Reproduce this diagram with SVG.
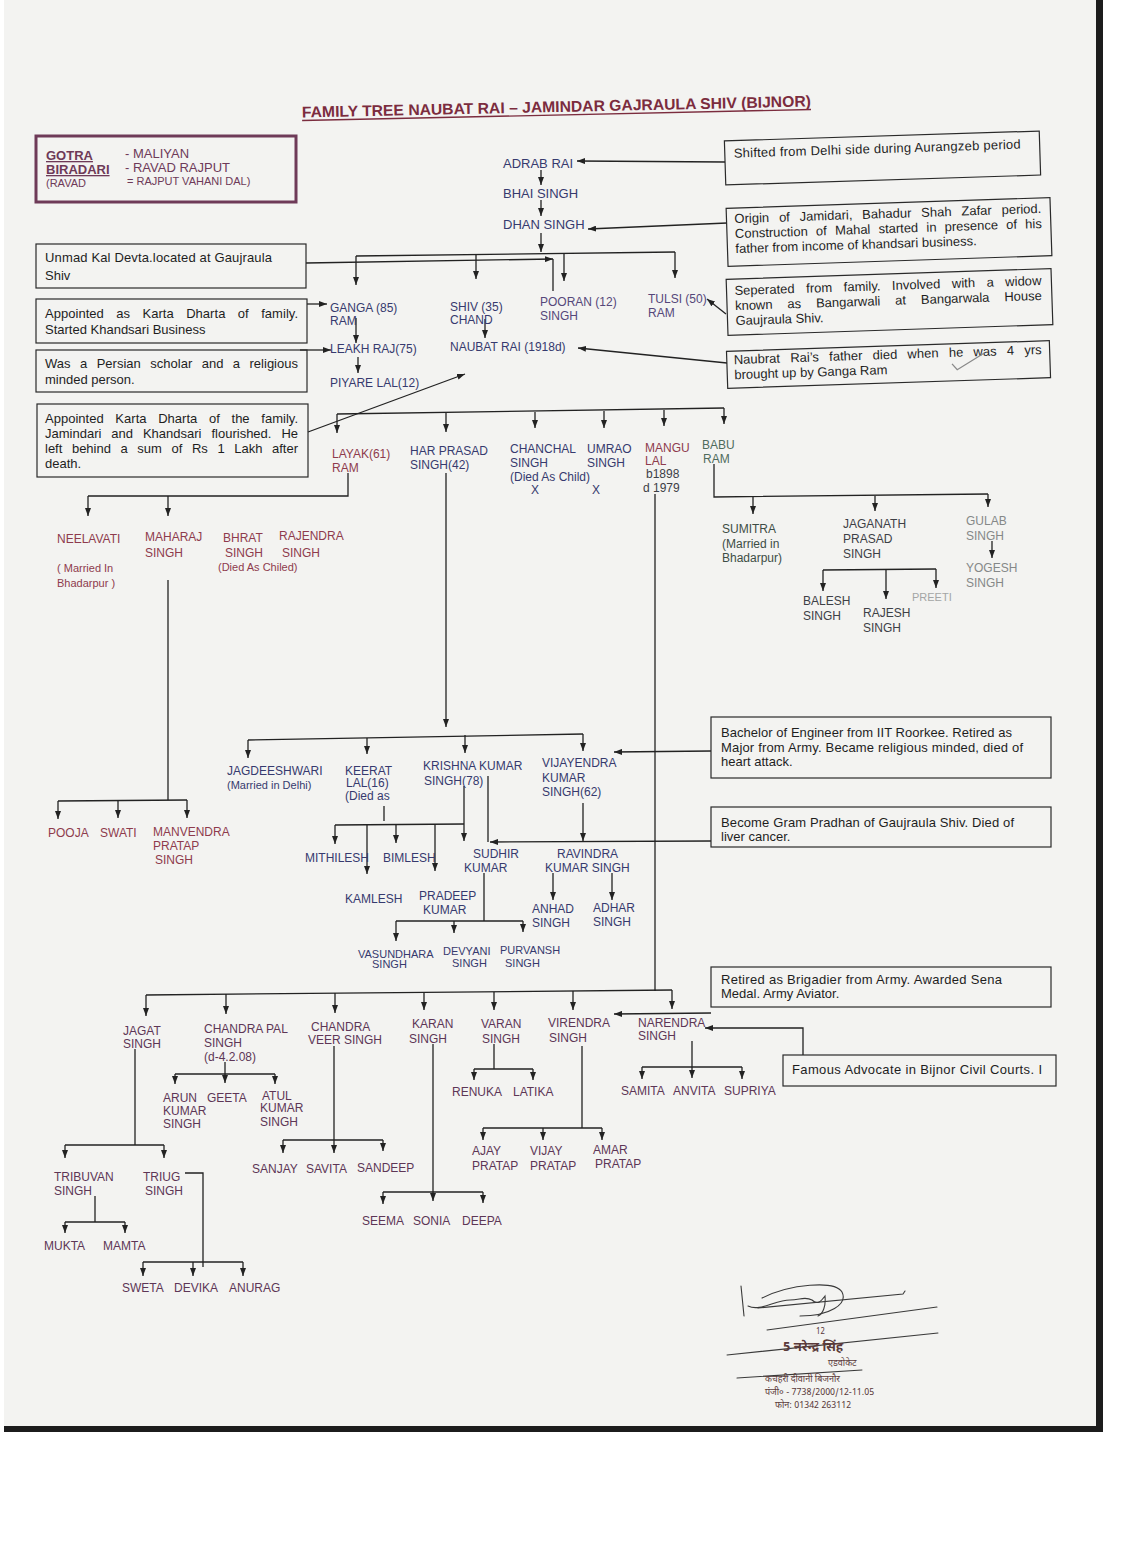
<svg xmlns="http://www.w3.org/2000/svg" width="1122" height="1544" viewBox="0 0 1122 1544">
<defs>
<marker id="ah" viewBox="0 0 8 6" refX="8" refY="3" markerWidth="8" markerHeight="6" markerUnits="userSpaceOnUse" orient="auto"><path d="M0,0 L8,3 L0,6 z" fill="#222"/></marker>
<style>
text{font-family:"Liberation Sans",Arial,sans-serif;}
.nm{font-size:12px;}
.nb{font-size:13px;}
.sm{font-size:11px;}
.nv{fill:#363a6e;}
.pn{fill:#55477a;}
.mr{fill:#8e3b4d;}
.pu{fill:#5d3656;}
.gr{fill:#4f6b5c;}
.gd{fill:#3d4d45;}
.dk{fill:#3d4046;}
.lg{fill:#858888;}
.xl{fill:#a3a5a5;}
.bx{fill:none;stroke:#2a2a2a;stroke-width:1.2;}
.bt{font-size:13px;fill:#1e1e1e;}
.ln{fill:none;stroke:#222;stroke-width:1.3;}
.ar{marker-end:url(#ah);}
.go{fill:#6e3a58;}
.ttl{font-size:15.5px;font-weight:bold;fill:#7b2c3e;}
.sg{fill:none;stroke:#3a3a3a;stroke-width:1.1;stroke-linecap:round;}
.st{fill:#5a3a3a;font-family:"Noto Sans Devanagari","Lohit Devanagari","FreeSans","Noto Sans",sans-serif;}
</style>
</defs>
<rect x="0" y="0" width="1122" height="1544" fill="#ffffff"/>
<rect x="4" y="0" width="1094" height="1427" fill="#f3f3f1"/>
<rect x="1096" y="0" width="7" height="1432" fill="#1c1c1c"/>
<rect x="4" y="1426" width="1099" height="6" fill="#1c1c1c"/>

<g id="title" transform="rotate(-1.24 556 112)">
<text x="302" y="112" class="ttl" textLength="509" lengthAdjust="spacingAndGlyphs">FAMILY TREE NAUBAT RAI – JAMINDAR GAJRAULA SHIV (BIJNOR)</text>
<line x1="302" y1="115" x2="811" y2="115" stroke="#7b2c3e" stroke-width="1.3"/>
</g>

<g id="gotra-box">
<rect x="36" y="136" width="260" height="66" fill="none" stroke="#6e3a58" stroke-width="3"/>
<text x="46" y="160" class="go" font-size="13" font-weight="bold" text-decoration="underline">GOTRA</text>
<text x="46" y="174" class="go" font-size="13" font-weight="bold" text-decoration="underline">BIRADARI</text>
<text x="46" y="187" class="go" font-size="11">(RAVAD</text>
<text x="125" y="158" class="go" font-size="13">- MALIYAN</text>
<text x="125" y="172" class="go" font-size="13">- RAVAD RAJPUT</text>
<text x="127" y="185" class="go" font-size="11">= RAJPUT VAHANI DAL)</text>
</g>

<g id="connectors">
<path class="ln ar" d="M725,162 L577,161"/>
<path class="ln ar" d="M541,170 L541,185"/>
<path class="ln ar" d="M541,200 L541,216"/>
<path class="ln ar" d="M727,223 L588,229"/>
<path class="ln ar" d="M541,233 L541,252"/>
<path class="ln" d="M356,256 L675,252"/>
<path class="ln ar" d="M356,256 L356,285"/>
<path class="ln ar" d="M476,255 L476,279"/>
<path class="ln ar" d="M564,254 L564,281"/>
<path class="ln ar" d="M675,252 L675,278"/>
<path class="ln ar" d="M306,263 L553,259"/>
<path class="ln" d="M553,259 L553,291"/>
<path class="ln ar" d="M307,304 L327,304"/>
<path class="ln ar" d="M356,318 L356,343"/>
<path class="ln ar" d="M300,350 L331,350"/>
<path class="ln ar" d="M358,357 L358,373"/>
<path class="ln ar" d="M726,314 L707,299"/>
<path class="ln ar" d="M485,319 L485,338"/>
<path class="ln ar" d="M727,363 L578,348"/>
<path class="ln ar" d="M308,432 L465,374"/>
<path class="ln" d="M337,414 L724,408"/>
<path class="ln ar" d="M337,414 L337,433"/>
<path class="ln ar" d="M446,413 L446,432"/>
<path class="ln ar" d="M535,412 L535,428"/>
<path class="ln ar" d="M604,411 L604,428"/>
<path class="ln ar" d="M664,410 L664,426"/>
<path class="ln ar" d="M724,408 L724,424"/>
<path class="ln" d="M348,473 L348,496 L88,496"/>
<path class="ln ar" d="M88,496 L88,516"/>
<path class="ln ar" d="M168,496 L168,516"/>
<path class="ln" d="M168,580 L168,800"/>
<path class="ln" d="M58,801 L187,800"/>
<path class="ln ar" d="M58,801 L58,819"/>
<path class="ln ar" d="M118,800 L118,818"/>
<path class="ln ar" d="M187,800 L187,818"/>
<path class="ln ar" d="M446,473 L446,727"/>
<path class="ln" d="M248,740 L583,734"/>
<path class="ln ar" d="M248,740 L248,758"/>
<path class="ln ar" d="M367,738 L367,754"/>
<path class="ln ar" d="M465,735 L465,753"/>
<path class="ln ar" d="M583,734 L583,751"/>
<path class="ln" d="M384,806 L384,821"/>
<path class="ln" d="M464,786 L464,824"/>
<path class="ln" d="M335,825 L464,824"/>
<path class="ln ar" d="M335,825 L335,844"/>
<path class="ln ar" d="M367,825 L367,874"/>
<path class="ln ar" d="M396,825 L396,843"/>
<path class="ln ar" d="M435,824 L435,871"/>
<path class="ln ar" d="M464,824 L464,841"/>
<path class="ln" d="M488,776 L488,842"/>
<path class="ln ar" d="M711,841 L490,842"/>
<path class="ln ar" d="M711,751 L614,752"/>
<path class="ln ar" d="M583,803 L583,841"/>
<path class="ln" d="M484,873 L484,921"/>
<path class="ln" d="M396,921 L523,921"/>
<path class="ln ar" d="M396,921 L396,941"/>
<path class="ln ar" d="M454,921 L454,933"/>
<path class="ln ar" d="M523,921 L523,932"/>
<path class="ln ar" d="M553,873 L553,900"/>
<path class="ln ar" d="M612,873 L612,900"/>
<path class="ln" d="M714,464 L714,497 L988,494"/>
<path class="ln ar" d="M753,497 L753,514"/>
<path class="ln ar" d="M875,496 L875,511"/>
<path class="ln ar" d="M988,494 L988,507"/>
<path class="ln ar" d="M992,541 L992,558"/>
<path class="ln" d="M823,570 L936,569"/>
<path class="ln ar" d="M823,570 L823,591"/>
<path class="ln ar" d="M886,569 L886,599"/>
<path class="ln ar" d="M936,569 L936,588"/>
<path class="ln" d="M655,494 L655,991"/>
<path class="ln" d="M146,995 L672,990"/>
<path class="ln ar" d="M146,995 L146,1016"/>
<path class="ln ar" d="M226,994 L226,1014"/>
<path class="ln ar" d="M335,993 L335,1013"/>
<path class="ln ar" d="M424,992 L424,1010"/>
<path class="ln ar" d="M494,992 L494,1010"/>
<path class="ln ar" d="M573,991 L573,1010"/>
<path class="ln ar" d="M672,990 L672,1009"/>
<path class="ln ar" d="M711,1013 L614,1014"/>
<path class="ln ar" d="M803,1055 L803,1028 L705,1028"/>
<path class="ln" d="M135,1049 L135,1145"/>
<path class="ln" d="M65,1145 L164,1145"/>
<path class="ln ar" d="M65,1145 L65,1158"/>
<path class="ln ar" d="M164,1145 L164,1158"/>
<path class="ln" d="M95,1196 L95,1222"/>
<path class="ln" d="M65,1222 L125,1222"/>
<path class="ln ar" d="M65,1222 L65,1233"/>
<path class="ln ar" d="M125,1222 L125,1233"/>
<path class="ln" d="M185,1173 L203,1173 L203,1267"/>
<path class="ln" d="M143,1262 L243,1262"/>
<path class="ln ar" d="M143,1262 L143,1276"/>
<path class="ln ar" d="M193,1262 L193,1276"/>
<path class="ln ar" d="M243,1262 L243,1276"/>
<path class="ln ar" d="M225,1062 L225,1083"/>
<path class="ln" d="M175,1074 L275,1074"/>
<path class="ln ar" d="M175,1074 L175,1084"/>
<path class="ln ar" d="M275,1074 L275,1084"/>
<path class="ln ar" d="M334,1046 L334,1153"/>
<path class="ln" d="M283,1140 L383,1140"/>
<path class="ln ar" d="M283,1140 L283,1153"/>
<path class="ln ar" d="M383,1140 L383,1151"/>
<path class="ln ar" d="M433,1044 L433,1201"/>
<path class="ln" d="M383,1192 L483,1192"/>
<path class="ln ar" d="M383,1192 L383,1204"/>
<path class="ln ar" d="M483,1192 L483,1203"/>
<path class="ln" d="M494,1044 L494,1069"/>
<path class="ln" d="M474,1069 L533,1069"/>
<path class="ln ar" d="M474,1069 L474,1080"/>
<path class="ln ar" d="M533,1069 L533,1080"/>
<path class="ln" d="M582,1046 L582,1128"/>
<path class="ln" d="M483,1128 L602,1128"/>
<path class="ln ar" d="M483,1128 L483,1140"/>
<path class="ln ar" d="M543,1128 L543,1140"/>
<path class="ln ar" d="M602,1128 L602,1140"/>
<path class="ln ar" d="M692,1041 L692,1078"/>
<path class="ln" d="M642,1067 L742,1067"/>
<path class="ln ar" d="M642,1067 L642,1079"/>
<path class="ln ar" d="M742,1067 L742,1079"/>
</g>

<g id="note-unmad"><rect class="bx" x="36" y="244" width="270" height="44"/>
<text class="bt" x="45" y="262" textLength="227">Unmad Kal Devta.located at Gaujraula</text><text class="bt" x="45" y="280">Shiv</text></g>
<g id="note-ganga"><rect class="bx" x="36" y="299" width="271" height="44"/>
<text class="bt" x="45" y="318" word-spacing="8.8" textLength="253">Appointed as Karta Dharta of family.</text><text class="bt" x="45" y="334">Started Khandsari Business</text></g>
<g id="note-leakh"><rect class="bx" x="36" y="350" width="271" height="42"/>
<text class="bt" x="45" y="368" word-spacing="5.8" textLength="253">Was a Persian scholar and a religious</text><text class="bt" x="45" y="384">minded person.</text></g>
<g id="note-piyare"><rect class="bx" x="37" y="404" width="271" height="73"/>
<text class="bt" x="45" y="423" word-spacing="8" textLength="253">Appointed Karta Dharta  of the family.</text>
<text class="bt" x="45" y="438" word-spacing="6.3" textLength="253">Jamindari and Khandsari flourished.  He</text>
<text class="bt" x="45" y="453" word-spacing="6" textLength="253">left behind a sum of Rs 1 Lakh after</text>
<text class="bt" x="45" y="468">death.</text></g>

<g id="note-adrab" transform="rotate(-1.8 882 158)"><rect class="bx" x="725" y="136" width="315" height="44"/>
<text class="bt" x="734" y="153" textLength="287">Shifted from Delhi side during Aurangzeb period</text></g>
<g id="note-dhan" transform="rotate(-1.9 889 232)"><rect class="bx" x="727" y="203" width="324" height="58"/>
<text class="bt" x="735" y="218" word-spacing="6.2" textLength="307">Origin of Jamidari, Bahadur Shah Zafar period.</text>
<text class="bt" x="735" y="233" word-spacing="4.6" textLength="307">Construction of Mahal started in presence of his</text>
<text class="bt" x="735" y="248">father from income of khandsari business.</text></g>
<g id="note-tulsi" transform="rotate(-1.9 889 302)"><rect class="bx" x="727" y="274" width="325" height="56"/>
<text class="bt" x="735" y="290" word-spacing="7.8" textLength="307">Seperated from family.  Involved with a widow</text>
<text class="bt" x="735" y="305" word-spacing="11.3" textLength="307">known as Bangarwali at Bangarwala House</text>
<text class="bt" x="735" y="320">Gaujraula Shiv.</text></g>
<g id="note-naubat" transform="rotate(-1.9 889 364)"><rect class="bx" x="727" y="346" width="323" height="37"/>
<text class="bt" x="734" y="359" word-spacing="6.6" textLength="308">Naubrat Rai’s father died when he was 4 yrs</text>
<text class="bt" x="734" y="374">brought up by Ganga Ram</text>
<path d="M952,366 L957,372 L985,356" fill="none" stroke="#8a8a8a" stroke-width="1.3"/></g>

<g id="note-vijayendra"><rect class="bx" x="711" y="717" width="340" height="61"/>
<text class="bt" x="721" y="737" textLength="291">Bachelor of Engineer from IIT Roorkee. Retired as</text>
<text class="bt" x="721" y="752" textLength="302">Major from Army.  Became religious minded, died of</text>
<text class="bt" x="721" y="766">heart attack.</text></g>
<g id="note-ravindra"><rect class="bx" x="711" y="807" width="340" height="40"/>
<text class="bt" x="721" y="827" textLength="293">Become Gram Pradhan of Gaujraula Shiv.  Died of</text>
<text class="bt" x="721" y="841">liver cancer.</text></g>
<g id="note-virendra"><rect class="bx" x="711" y="967" width="340" height="40"/>
<text class="bt" x="721" y="984" textLength="281">Retired as Brigadier from Army. Awarded Sena</text>
<text class="bt" x="721" y="998">Medal. Army Aviator.</text></g>
<g id="note-narendra"><rect class="bx" x="783" y="1055" width="273" height="31"/>
<text class="bt" x="792" y="1074" textLength="250">Famous Advocate in Bijnor Civil Courts.  I</text></g>

<g id="n-adrab"><text class="nb nv" x="503" y="168">ADRAB RAI</text></g>
<g id="n-bhai"><text class="nb nv" x="503" y="198">BHAI SINGH</text></g>
<g id="n-dhan"><text class="nb nv" x="503" y="229">DHAN SINGH</text></g>
<g id="n-ganga"><text class="nm nv" x="330" y="312">GANGA (85)</text><text class="nm nv" x="330" y="325">RAM</text></g>
<g id="n-shiv"><text class="nm nv" x="450" y="311">SHIV (35)</text><text class="nm nv" x="450" y="324">CHAND</text></g>
<g id="n-pooran"><text class="nm pn" x="540" y="306">POORAN (12)</text><text class="nm pn" x="540" y="320">SINGH</text></g>
<g id="n-tulsi"><text class="nm pn" x="648" y="303">TULSI (50)</text><text class="nm pn" x="648" y="317">RAM</text></g>
<g id="n-leakh"><text class="nm nv" x="330" y="353">LEAKH RAJ(75)</text></g>
<g id="n-piyare"><text class="nm nv" x="330" y="387">PIYARE LAL(12)</text></g>
<g id="n-naubat"><text class="nm nv" x="450" y="351">NAUBAT RAI (1918d)</text></g>

<g id="n-layak"><text class="nm mr" x="332" y="458">LAYAK(61)</text><text class="nm mr" x="332" y="472">RAM</text></g>
<g id="n-harprasad"><text class="nm nv" x="410" y="455">HAR PRASAD</text><text class="nm nv" x="410" y="469">SINGH(42)</text></g>
<g id="n-chanchal"><text class="nm nv" x="510" y="453">CHANCHAL</text><text class="nm nv" x="510" y="467">SINGH</text><text class="nm nv" x="510" y="481">(Died As Child)</text><text class="nm nv" x="531" y="494">X</text></g>
<g id="n-umrao"><text class="nm nv" x="587" y="453">UMRAO</text><text class="nm nv" x="587" y="467">SINGH</text><text class="nm nv" x="592" y="494">X</text></g>
<g id="n-mangu"><text class="nm mr" x="645" y="452">MANGU</text><text class="nm mr" x="645" y="465">LAL</text><text class="nm dk" x="646" y="478">b1898</text><text class="nm dk" x="643" y="492">d 1979</text></g>
<g id="n-babu"><text class="nm gr" x="702" y="449">BABU</text><text class="nm gr" x="703" y="463">RAM</text></g>

<g id="n-neelavati"><text class="nm mr" x="57" y="543">NEELAVATI</text><text class="sm mr" x="57" y="572">( Married In</text><text class="sm mr" x="57" y="587">Bhadarpur )</text></g>
<g id="n-maharaj"><text class="nm mr" x="145" y="541">MAHARAJ</text><text class="nm mr" x="145" y="557">SINGH</text></g>
<g id="n-bhrat"><text class="nm mr" x="223" y="542">BHRAT</text><text class="nm mr" x="225" y="557">SINGH</text></g>
<g id="n-rajendra"><text class="nm mr" x="279" y="540">RAJENDRA</text><text class="nm mr" x="282" y="557">SINGH</text></g>
<g id="n-died-chiled"><text class="sm mr" x="218" y="571">(Died As Chiled)</text></g>

<g id="n-sumitra"><text class="nm gd" x="722" y="533">SUMITRA</text><text class="nm gd" x="722" y="548">(Married in</text><text class="nm gd" x="722" y="562">Bhadarpur)</text></g>
<g id="n-jaganath"><text class="nm dk" x="843" y="528">JAGANATH</text><text class="nm dk" x="843" y="543">PRASAD</text><text class="nm dk" x="843" y="558">SINGH</text></g>
<g id="n-gulab"><text class="nm lg" x="966" y="525">GULAB</text><text class="nm lg" x="966" y="540">SINGH</text></g>
<g id="n-yogesh"><text class="nm lg" x="966" y="572">YOGESH</text><text class="nm lg" x="966" y="587">SINGH</text></g>
<g id="n-balesh"><text class="nm dk" x="803" y="605">BALESH</text><text class="nm dk" x="803" y="620">SINGH</text></g>
<g id="n-rajesh"><text class="nm dk" x="863" y="617">RAJESH</text><text class="nm dk" x="863" y="632">SINGH</text></g>
<g id="n-preeti"><text class="sm xl" x="912" y="601">PREETI</text></g>

<g id="n-pooja"><text class="nm mr" x="48" y="837">POOJA</text></g>
<g id="n-swati"><text class="nm mr" x="100" y="837">SWATI</text></g>
<g id="n-manvendra"><text class="nm mr" x="153" y="836">MANVENDRA</text><text class="nm mr" x="153" y="850">PRATAP</text><text class="nm mr" x="155" y="864">SINGH</text></g>

<g id="n-jagdeeshwari"><text class="nm nv" x="227" y="775">JAGDEESHWARI</text><text class="sm nv" x="227" y="789">(Married in Delhi)</text></g>
<g id="n-keerat"><text class="nm nv" x="345" y="775">KEERAT</text><text class="nm nv" x="346" y="787">LAL(16)</text><text class="nm nv" x="345" y="800">(Died as</text></g>
<g id="n-krishna"><text class="nm nv" x="423" y="770">KRISHNA KUMAR</text><text class="nm nv" x="424" y="785">SINGH(78)</text></g>
<g id="n-vijayendra"><text class="nm nv" x="542" y="767">VIJAYENDRA</text><text class="nm nv" x="542" y="782">KUMAR</text><text class="nm nv" x="542" y="796">SINGH(62)</text></g>

<g id="n-mithilesh"><text class="nm nv" x="305" y="862">MITHILESH</text></g>
<g id="n-bimlesh"><text class="nm nv" x="383" y="862">BIMLESH</text></g>
<g id="n-kamlesh"><text class="nm nv" x="345" y="903">KAMLESH</text></g>
<g id="n-pradeep"><text class="nm nv" x="419" y="900">PRADEEP</text><text class="nm nv" x="423" y="914">KUMAR</text></g>
<g id="n-sudhir"><text class="nm nv" x="473" y="858">SUDHIR</text><text class="nm nv" x="464" y="872">KUMAR</text></g>
<g id="n-ravindra"><text class="nm nv" x="557" y="858">RAVINDRA</text><text class="nm nv" x="545" y="872">KUMAR SINGH</text></g>
<g id="n-anhad"><text class="nm nv" x="532" y="913">ANHAD</text><text class="nm nv" x="532" y="927">SINGH</text></g>
<g id="n-adhar"><text class="nm nv" x="593" y="912">ADHAR</text><text class="nm nv" x="593" y="926">SINGH</text></g>
<g id="n-vasundhara"><text class="sm nv" x="358" y="958">VASUNDHARA</text><text class="sm nv" x="372" y="968">SINGH</text></g>
<g id="n-devyani"><text class="sm nv" x="443" y="955">DEVYANI</text><text class="sm nv" x="452" y="967">SINGH</text></g>
<g id="n-purvansh"><text class="sm nv" x="500" y="954">PURVANSH</text><text class="sm nv" x="505" y="967">SINGH</text></g>

<g id="n-jagat"><text class="nm pu" x="123" y="1035">JAGAT</text><text class="nm pu" x="123" y="1048">SINGH</text></g>
<g id="n-chandrapal"><text class="nm pu" x="204" y="1033">CHANDRA PAL</text><text class="nm pu" x="204" y="1047">SINGH</text><text class="nm pu" x="204" y="1061">(d-4.2.08)</text></g>
<g id="n-chandraveer"><text class="nm pu" x="311" y="1031">CHANDRA</text><text class="nm pu" x="308" y="1044">VEER SINGH</text></g>
<g id="n-karan"><text class="nm pu" x="412" y="1028">KARAN</text><text class="nm pu" x="409" y="1043">SINGH</text></g>
<g id="n-varan"><text class="nm pu" x="481" y="1028">VARAN</text><text class="nm pu" x="482" y="1043">SINGH</text></g>
<g id="n-virendra"><text class="nm pu" x="548" y="1027">VIRENDRA</text><text class="nm pu" x="549" y="1042">SINGH</text></g>
<g id="n-narendra"><text class="nm pu" x="638" y="1027">NARENDRA</text><text class="nm pu" x="638" y="1040">SINGH</text></g>

<g id="n-arun"><text class="nm pu" x="163" y="1102">ARUN</text><text class="nm pu" x="163" y="1115">KUMAR</text><text class="nm pu" x="163" y="1128">SINGH</text></g>
<g id="n-geeta"><text class="nm pu" x="207" y="1102">GEETA</text></g>
<g id="n-atul"><text class="nm pu" x="262" y="1100">ATUL</text><text class="nm pu" x="260" y="1112">KUMAR</text><text class="nm pu" x="260" y="1126">SINGH</text></g>
<g id="n-tribuvan"><text class="nm pu" x="54" y="1181">TRIBUVAN</text><text class="nm pu" x="54" y="1195">SINGH</text></g>
<g id="n-triug"><text class="nm pu" x="143" y="1181">TRIUG</text><text class="nm pu" x="145" y="1195">SINGH</text></g>
<g id="n-mukta"><text class="nm pu" x="44" y="1250">MUKTA</text></g>
<g id="n-mamta"><text class="nm pu" x="103" y="1250">MAMTA</text></g>
<g id="n-sweta"><text class="nm pu" x="122" y="1292">SWETA</text></g>
<g id="n-devika"><text class="nm pu" x="174" y="1292">DEVIKA</text></g>
<g id="n-anurag"><text class="nm pu" x="229" y="1292">ANURAG</text></g>
<g id="n-sanjay"><text class="nm pu" x="252" y="1173">SANJAY</text></g>
<g id="n-savita"><text class="nm pu" x="306" y="1173">SAVITA</text></g>
<g id="n-sandeep"><text class="nm pu" x="357" y="1172">SANDEEP</text></g>
<g id="n-seema"><text class="nm pu" x="362" y="1225">SEEMA</text></g>
<g id="n-sonia"><text class="nm pu" x="413" y="1225">SONIA</text></g>
<g id="n-deepa"><text class="nm pu" x="462" y="1225">DEEPA</text></g>
<g id="n-renuka"><text class="nm pu" x="452" y="1096">RENUKA</text></g>
<g id="n-latika"><text class="nm pu" x="513" y="1096">LATIKA</text></g>
<g id="n-ajay"><text class="nm pu" x="472" y="1155">AJAY</text><text class="nm pu" x="472" y="1170">PRATAP</text></g>
<g id="n-vijay"><text class="nm pu" x="530" y="1155">VIJAY</text><text class="nm pu" x="530" y="1170">PRATAP</text></g>
<g id="n-amar"><text class="nm pu" x="593" y="1154">AMAR</text><text class="nm pu" x="595" y="1168">PRATAP</text></g>
<g id="n-samita"><text class="nm pu" x="621" y="1095">SAMITA</text></g>
<g id="n-anvita"><text class="nm pu" x="673" y="1095">ANVITA</text></g>
<g id="n-supriya"><text class="nm pu" x="724" y="1095">SUPRIYA</text></g>

<g id="signature">
<path class="sg" d="M741,1286 L744,1316"/>
<path class="sg" d="M748,1306 C760,1312 775,1300 790,1300 C800,1300 805,1296 812,1300 C818,1306 822,1300 825,1296 C826,1306 823,1314 818,1316"/>
<path class="sg" d="M762,1298 C790,1284 835,1280 842,1292 C848,1304 830,1316 800,1316"/>
<path class="sg" d="M758,1308 L903,1294 L905,1291"/>
<path class="sg" d="M767,1330 L937,1307"/>
<path class="sg" d="M727,1355 L938,1333"/>
<path class="sg" d="M737,1378 L862,1370"/>
<text class="st" x="783" y="1351" font-size="13" font-weight="bold">5 नरेन्द्र सिंह</text>
<text class="st" x="816" y="1334" font-size="8">12</text>
<text class="st" x="828" y="1366" font-size="9">एडवोकेट</text>
<text class="st" x="765" y="1382" font-size="9">कचहरी दीवानी बिजनौर</text>
<text class="st" x="765" y="1395" font-size="9">पंजी० - 7738/2000/12-11.05</text>
<text class="st" x="775" y="1408" font-size="9">फोन: 01342 263112</text>
</g>
</svg>
